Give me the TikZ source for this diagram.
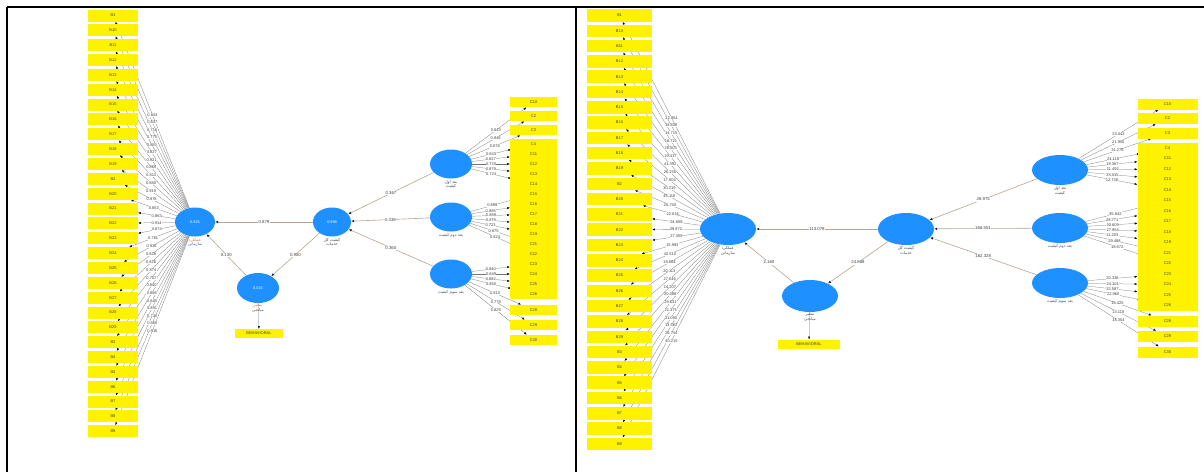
\documentclass[tikz,border=0pt]{standalone}
\usepackage{fontspec}
\setmainfont{Liberation Sans}
\newfontfamily\fa[Script=Arabic]{DejaVu Sans}
\TeXXeTstate=1
\usetikzlibrary{shapes.geometric,arrows.meta}
\pgfdeclarelayer{back}
\pgfdeclarelayer{bg}
\pgfsetlayers{back,bg,main}
\definecolor{lvblue}{RGB}{30,144,255}
\definecolor{indyel}{RGB}{255,242,0}
\definecolor{pathcol}{RGB}{185,165,145}
\definecolor{tipcol}{RGB}{20,30,70}
\definecolor{orlab}{RGB}{225,125,55}
\definecolor{bllab}{RGB}{60,95,175}
\tikzset{
  lv/.style={ellipse, fill=lvblue, draw=none, inner sep=0pt, text=white,
    font=\fontsize{3.8}{4.2}\selectfont, align=center},
  indbox/.style={rectangle, fill=indyel, draw=none, inner sep=0pt,
    font=\fontsize{4}{4.4}\selectfont, text=black!75},
  indA/.style={indbox, minimum width=50pt, minimum height=12pt},
  indB/.style={indbox, minimum width=47pt, minimum height=10.5pt},
  indC/.style={indbox, minimum width=65pt, minimum height=12.5pt},
  indD/.style={indbox, minimum width=60pt, minimum height=11pt},
  indline/.style={draw=black!55, line width=0.25pt,
    -{Latex[length=2.6pt,width=2.1pt,color=black]}},
  indlineR/.style={indline, draw=black!45, line width=0.35pt},
  pathline/.style={draw=pathcol, line width=0.6pt,
    -{Latex[length=3pt,width=2.6pt,color=tipcol]}},
  lbl/.style={fill=white, inner sep=0.3pt, font=\fontsize{4}{4.4}\selectfont, text=black!75},
  plbl/.style={fill=white, inner sep=0.6pt, font=\fontsize{4.3}{4.8}\selectfont, text=black!75},
  lvname/.style={anchor=north, inner sep=1.2pt, align=center, text=black!70,
    font=\fa\fontsize{4}{4.8}\selectfont}
}
\begin{document}
\begin{tikzpicture}[x=1pt,y=-1pt]
\useasboundingbox (0,0) rectangle (1204,472);
\begin{pgfonlayer}{back}
\fill[white] (0,0) rectangle (1204,472);
\end{pgfonlayer}
% table frame
\draw[line width=1.6pt] (7,7) -- (1204,7);
\draw[line width=1.6pt] (7,7) -- (7,472);
\draw[line width=1.2pt] (576,7) -- (576,472);

% ===================== LEFT PANEL =====================
\foreach \lab [count=\i] in {B1,B10,B11,B12,B13,B14,B15,B16,B17,B18,B19,B2,B20,B21,B22,B23,B24,B25,B26,B27,B28,B29,B3,B4,B5,B6,B7,B8,B9}
  \node[indA] (a\i) at (113,{15.5+14.85*(\i-1)}) {\lab};
\foreach \lab/\yy [count=\i] in {C10/102,C2/116,C3/130,C4/144,C11/154,C12/164,C13/174,C14/184,C15/194,C16/204,C17/214,C18/224,C19/234,C21/244,C22/254,C23/264,C24/274,C25/284,C26/294,C28/310,C29/325,C30/340}
  \node[indB] (b\i) at (533.5,\yy) {\lab};

\node[lv, minimum width=40pt, minimum height=29pt] (L1) at (195,222) {0.933};
\node[lv, minimum width=38pt, minimum height=29pt] (L2) at (332,222) {0.998};
\node[lv, minimum width=42pt, minimum height=30pt] (L3) at (258,288) {0.016};
\node[lv, minimum width=42pt, minimum height=29pt] (R1) at (451,164) {};
\node[lv, minimum width=42pt, minimum height=29pt] (R2) at (451,217) {};
\node[lv, minimum width=42pt, minimum height=29pt] (R3) at (451,274) {};
\node[indbox, minimum width=48pt, minimum height=9pt] (e1) at (259,333.5) {BEHAVIORAL};

\begin{pgfonlayer}{bg}
  \foreach \i in {1,...,29} \draw[indline] (L1) -- (a\i);
  \foreach \i in {1,...,22}{%
    \ifnum\i<9 \def\src{R1}\else\ifnum\i<16 \def\src{R2}\else\def\src{R3}\fi\fi
    \draw[indline] (\src) -- (b\i);}
  \draw[indline] (L3) -- (e1);
  \draw[pathline] (L2) -- node[plbl]{0.879} (L1);
  \draw[pathline] (L3) -- node[plbl]{0.130} (L1);
  \draw[pathline] (L2) -- node[plbl]{0.900} (L3);
  \draw[pathline] (R1) -- node[plbl]{0.367} (L2);
  \draw[pathline] (R2) -- node[plbl]{0.339} (L2);
  \draw[pathline] (R3) -- node[plbl]{0.360} (L2);
\end{pgfonlayer}

\foreach \v [count=\i] in {0.843,0.847,0.718,0.775,0.893,0.827,0.921,0.865,0.813,0.880,0.919,0.878,0.853,0.863,0.914,0.874,0.781,0.916,0.828,0.826,0.874,0.757,0.840,0.886,0.848,0.891,0.740,0.865,0.915}
  \path (L1) -- node[lbl]{\v} (a\i);
\foreach \v [count=\i] in {0.843,0.849,0.878,0.843,0.827,0.733,0.879,0.724,0.899,0.885,0.889,0.879,0.723,0.875,0.824,0.840,0.849,0.882,0.850,0.810,0.779,0.829}{%
  \ifnum\i<9 \def\src{R1}\else\ifnum\i<16 \def\src{R2}\else\def\src{R3}\fi\fi
  \path (\src) -- node[lbl]{\v} (b\i);}

\node[lvname] (nL1) at (L1.south) {\textcolor{orlab}{\beginR عملکرد\endR}\\\textcolor{bllab}{\beginR سازمانی\endR}};
\node[lvname] (nL2) at (L2.south) {\beginR کیفیت کل\endR\\\beginR خدمات\endR};
\node[lvname] (nL3) at (L3.south) {\textcolor{orlab}{\beginR متغیر\endR}\\\beginR میانجی\endR};
\node[lvname] (nR1) at (R1.south) {\beginR بعد اول\endR\\\beginR کیفیت\endR};
\node[lvname] (nR2) at (R2.south) {\beginR بعد دوم کیفیت\endR};
\node[lvname] (nR3) at (R3.south) {\beginR بعد سوم کیفیت\endR};

% ===================== RIGHT PANEL =====================
\foreach \lab [count=\i] in {B1,B10,B11,B12,B13,B14,B15,B16,B17,B18,B19,B2,B20,B21,B22,B23,B24,B25,B26,B27,B28,B29,B3,B4,B5,B6,B7,B8,B9}
  \node[indC] (c\i) at (619.5,{15.5+15.3*(\i-1)}) {\lab};
\foreach \lab/\yy [count=\i] in {C10/104,C2/118.5,C3/133,C4/148,C11/158.5,C12/169,C13/179.5,C14/190,C15/200.5,C16/211,C17/221.5,C18/232,C19/242.5,C21/253,C22/263.5,C23/274,C24/284.5,C25/295,C26/305.5,C28/321,C29/336.5,C30/352}
  \node[indD] (d\i) at (1167.5,\yy) {\lab};

\node[lv, minimum width=56pt, minimum height=32pt] (RL1) at (728,229) {};
\node[lv, minimum width=56pt, minimum height=32pt] (RL2) at (906,229) {};
\node[lv, minimum width=56pt, minimum height=32pt] (RL3) at (810,296) {};
\node[lv, minimum width=56pt, minimum height=30pt] (RR1) at (1060,170) {};
\node[lv, minimum width=56pt, minimum height=30pt] (RR2) at (1060,228) {};
\node[lv, minimum width=56pt, minimum height=30pt] (RR3) at (1060,283) {};
\node[indbox, minimum width=62pt, minimum height=9pt] (e2) at (809,344) {BEHAVIORAL};

\begin{pgfonlayer}{bg}
  \foreach \i in {1,...,29} \draw[indlineR] (RL1) -- (c\i);
  \foreach \i in {1,...,22}{%
    \ifnum\i<9 \def\src{RR1}\else\ifnum\i<16 \def\src{RR2}\else\def\src{RR3}\fi\fi
    \draw[indline] (\src) -- (d\i);}
  \draw[indline] (RL3) -- (e2);
  \draw[pathline] (RL2) -- node[plbl]{113.079} (RL1);
  \draw[pathline] (RL3) -- node[plbl]{2.160} (RL1);
  \draw[pathline] (RL2) -- node[plbl]{24.888} (RL3);
  \draw[pathline] (RR1) -- node[plbl]{26.975} (RL2);
  \draw[pathline] (RR2) -- node[plbl]{166.551} (RL2);
  \draw[pathline] (RR3) -- node[plbl]{162.328} (RL2);
\end{pgfonlayer}

\foreach \v [count=\i] in {22.954,18.836,14.715,16.721,28.503,19.417,41.392,26.155,17.604,30.219,45.118,25.740,22.016,24.658,39.872,27.309,15.993,42.510,19.864,20.113,27.046,14.207,20.488,29.631,21.375,31.090,13.582,26.744,40.215}
  \path (RL1) -- node[lbl]{\v} (c\i);
\foreach \v [count=\i] in {23.442,21.905,31.276,24.118,19.367,11.492,33.015,12.738,35.842,28.771,30.609,27.954,11.203,29.488,18.672,20.336,24.101,32.587,22.960,16.425,13.118,18.304}{%
  \ifnum\i<9 \def\src{RR1}\else\ifnum\i<16 \def\src{RR2}\else\def\src{RR3}\fi\fi
  \path (\src) -- node[lbl]{\v} (d\i);}

\node[lvname] (nRL1) at (RL1.south) {\beginR عملکرد\endR\\\beginR سازمانی\endR};
\node[lvname] (nRL2) at (RL2.south) {\beginR کیفیت کل\endR\\\beginR خدمات\endR};
\node[lvname] (nRL3) at (RL3.south) {\beginR متغیر\endR\\\beginR میانجی\endR};
\node[lvname] (nRR1) at (RR1.south) {\beginR بعد اول\endR\\\beginR کیفیت\endR};
\node[lvname] (nRR2) at (RR2.south) {\beginR بعد دوم کیفیت\endR};
\node[lvname] (nRR3) at (RR3.south) {\beginR بعد سوم کیفیت\endR};
\end{tikzpicture}
\end{document}
